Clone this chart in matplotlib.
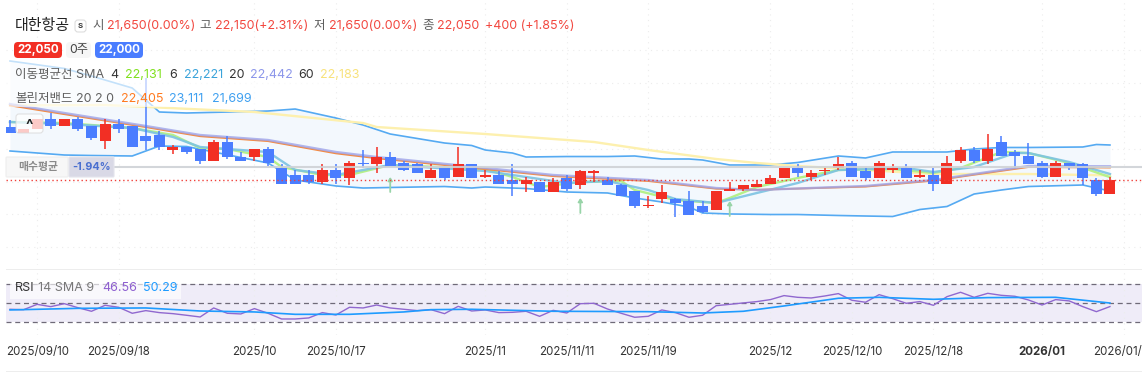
import matplotlib
matplotlib.use("Agg")
import matplotlib.pyplot as plt
import numpy as np
from matplotlib.patches import FancyBboxPatch, Rectangle
from matplotlib.transforms import IdentityTransform

plt.rcParams["font.family"] = ["Inter", "Noto Sans CJK KR", "DejaVu Sans"]

# candles
opens = [23550, 23400, 23500, 23800, 23600, 23800, 23600, 23150, 23650, 23600, 23300, 23350, 22900, 23000,
         22950, 22600, 23150, 22700, 22700, 22950, 22400, 22200, 22200, 22000, 22350, 22100, 22550, 22500,
         22700, 22550, 22500, 22100, 22400, 22150, 22500, 22150, 22200, 22050, 21950, 22000, 21700, 22100,
         21900, 22250, 22050, 21900, 21750, 21300, 21500, 21500, 21450, 21300, 21200, 21750, 21800, 21850,
         21950, 22100, 22400, 22150, 22300, 22400, 22550, 22300, 22100, 22350, 22400, 22150, 22200, 21950,
         22600, 22900, 22600, 23150, 22850, 22750, 22550, 22150, 22550, 22500, 22050, 21650]
closes = [23400, 23500, 23800, 23600, 23800, 23500, 23250, 23650, 23500, 23000, 23150, 23000, 23000, 22850,
          22600, 23150, 22700, 22600, 22950, 22550, 21950, 21950, 22000, 22350, 22100, 22550, 22500, 22700,
          22450, 22350, 22250, 22350, 22100, 22500, 22100, 22200, 21950, 21950, 22050, 21700, 22000, 21800,
          22300, 22300, 21900, 21600, 21300, 21350, 21700, 21400, 21050, 21150, 21750, 21800, 21900, 21950,
          22100, 22400, 22250, 22250, 22350, 22500, 22150, 22100, 22550, 22400, 22100, 22200, 21950, 22550,
          22900, 22600, 22950, 22750, 22750, 22500, 22150, 22550, 22450, 22100, 21650, 22050]
highs = [23750, 23500, 23800, 23950, 23800, 23850, 23600, 23800, 23800, 23600, 24950, 23450, 23050, 23000,
         22950, 23200, 23300, 22850, 22950, 23000, 22500, 22350, 22350, 22500, 22500, 22600, 22900, 23000,
         22850, 22600, 22550, 22500, 22400, 23000, 22500, 22350, 22300, 22500, 22150, 22000, 22100, 22200,
         22350, 22350, 22150, 21950, 21750, 21600, 21900, 21550, 21750, 21450, 21750, 22000, 21900, 22050,
         22200, 22400, 22500, 22350, 22400, 22700, 22600, 22400, 22600, 22500, 22500, 22350, 22400, 22750,
         23000, 23000, 23350, 23300, 22900, 23100, 22600, 22600, 22550, 22550, 22100, 22150]
lows = [23400, 23400, 23500, 23500, 23600, 23450, 23200, 22950, 23400, 23000, 22900, 22900, 22800, 22800,
        22500, 22600, 22650, 22600, 22600, 22450, 21950, 21950, 21950, 21950, 21950, 21900, 22400, 22250,
        22450, 22300, 22250, 22100, 22050, 22150, 22100, 22100, 21950, 21600, 21700, 21700, 21700, 21750,
        21800, 22000, 21900, 21600, 21250, 21250, 21400, 21000, 21050, 21100, 21200, 21750, 21750, 21850,
        21950, 22100, 22150, 22050, 22200, 22350, 22150, 22050, 22100, 22250, 22100, 22100, 21750, 21950,
        22550, 22550, 22500, 22750, 22400, 22500, 22100, 22150, 22350, 21900, 21600, 21650]

# bollinger band, sampled at these candles
band_idx = [0, 4, 6, 9, 11, 13, 19, 21, 24, 26, 28, 32, 34, 35, 37, 38, 41, 44, 46, 48, 50, 51, 53, 56, 58, 61,
            63, 65, 67, 69, 71, 73, 75, 79, 80, 81]
band_up = [25450, 25236, 25021, 24678, 23993, 23964, 24021, 24078, 23821, 23621, 23364, 23107, 23036, 22907,
           22821, 22707, 22721, 22721, 22736, 22650, 22650, 22621, 22479, 22479, 22550, 22736, 22679, 22850,
           22850, 22850, 22936, 22979, 22979, 22993, 23064, 23050]
band_low = [22879, 22764, 22750, 22736, 23021, 23007, 22536, 22050, 21879, 21821, 21836, 21864, 21821, 21850,
            21821, 21807, 21707, 21679, 21536, 21421, 21279, 21107, 21079, 21064, 21064, 21036, 21021, 21007,
            21207, 21293, 21650, 21764, 21864, 21907, 21821, 21736]
mid_idx = [0, 4, 10, 14, 19, 24, 27, 35, 40, 47, 52, 55, 63, 68, 71, 75, 81]
band_mid = [24180, 23930, 23560, 23300, 23160, 22810, 22670, 22360, 22160, 22020, 21800, 21770, 21860, 22030,
            22200, 22420, 22405]
sma20 = [24221, 23964, 23593, 23336, 23193, 22850, 22707, 22393, 22193, 22050, 21821, 21764, 21879, 22050,
         22221, 22450, 22442]

sma4_idx = [0, 4, 9, 12, 14, 16, 19, 20, 23, 25, 28, 35, 37, 39, 42, 45, 46, 49, 52, 53, 55, 58, 61, 65, 68, 70,
            73, 75, 78, 81]
sma4 = [23707, 23678, 23536, 23336, 22964, 22936, 22707, 22421, 22193, 22193, 22479, 22364, 22136, 21850, 21993,
        22021, 21764, 21479, 21393, 21536, 21850, 22107, 22336, 22364, 22250, 22393, 22850, 22821, 22536, 22131]
sma6_idx = [0, 4, 9, 12, 14, 19, 21, 24, 26, 28, 35, 38, 41, 44, 47, 49, 52, 55, 58, 61, 66, 68, 71, 74, 75, 78, 81]
sma6 = [23707, 23650, 23536, 23279, 22993, 22850, 22336, 22193, 22336, 22479, 22307, 22136, 21964, 22021, 21764,
        21507, 21393, 21679, 21964, 22336, 22393, 22279, 22421, 22821, 22821, 22564, 22221]
sma60_idx = [0, 7, 18, 26, 27, 35, 43, 47, 52, 55, 58, 68, 75, 81]
sma60 = [24180, 24193, 23993, 23678, 23564, 23364, 23136, 22907, 22650, 22536, 22450, 22221, 22221, 22183]

buy_idx = [28, 42, 53]
buy_price = [22136, 21536, 21450]
last_price = 22050
avg_price = 22420

rsi = [43.7, 43.3, 48.9, 46.5, 49.6, 45.4, 41.6, 47.9, 45.8, 39.5, 42.3, 40.2, 39.1, 37.4, 35.6, 45.1, 39.5, 38.8,
       44.4, 39.5, 33.5, 33.5, 34.6, 40.2, 37.7, 45.8, 45.1, 48.2, 45.1, 43.7, 42.3, 43.3, 39.1, 46.8, 41.9, 43.0,
       40.2, 40.5, 41.6, 36.3, 42.6, 39.8, 49.6, 50.0, 44.0, 39.5, 35.3, 36.3, 43.0, 40.2, 35.3, 37.4, 47.5, 48.9,
       50.4, 51.8, 53.9, 58.1, 56.3, 55.6, 57.7, 60.2, 53.2, 51.1, 59.1, 54.9, 50.0, 51.8, 47.9, 57.0, 61.6, 56.3,
       60.5, 58.4, 57.4, 53.5, 48.2, 53.9, 52.5, 46.5, 41.2, 46.56]
rsi_sma_idx = [0, 5, 10, 14, 18, 21, 25, 29, 31, 34, 40, 47, 51, 54, 57, 61, 64, 68, 72, 77, 81]
rsi_sma = [43.0, 44.7, 45.1, 41.9, 40.9, 38.4, 38.4, 40.9, 43.3, 43.7, 41.6, 41.2, 39.8, 41.6, 47.2, 55.3, 56.3,
           54.2, 56.0, 56.3, 50.29]

tick_idx = [2, 8, 18, 24, 35, 41, 47, 56, 62, 68, 76, 82]
tick_labels = ["2025/09/10", "2025/09/18", "2025/10", "2025/10/17", "2025/11", "2025/11/11", "2025/11/19",
               "2025/12", "2025/12/10", "2025/12/18", "2026/01", "2026/01/12"]
price_grid = [25750, 24821, 23879, 22936, 22007, 21079, 20136]

W, H = 1142, 378
RED = "#f22f24"
BLUE = "#4a7dff"
TXT_RED = "#f2473f"
DARK = "#333333"
GRAY = "#5f5f5f"
GRID = "#ececec"

fig = plt.figure(figsize=(W / 100, H / 100), dpi=100, facecolor="white")


def box(x0, y0, x1, y1):
    return [x0 / W, 1 - y1 / H, (x1 - x0) / W, (y1 - y0) / H]


def label(x, y, s, color=DARK, size=9.0, **kw):
    kw.setdefault("va", "center")
    kw.setdefault("zorder", 21)
    fig.text(x / W, 1 - y / H, s, color=color, fontsize=size, **kw)


def badge(x0, y0, x1, y1, face, edge="none", alpha=1.0, zorder=20, rad=3):
    fig.add_artist(FancyBboxPatch((x0, H - y1), x1 - x0, y1 - y0, boxstyle=f"round,pad=0,rounding_size={rad}",
                                  transform=IdentityTransform(), facecolor=face, edgecolor=edge,
                                  linewidth=0.8, alpha=alpha, zorder=zorder))


# price panel, px y = 180 - (price - 22050) * 0.035
top_px, bot_px = 0, 265
ax = fig.add_axes(box(6, top_px, W, bot_px))
ax.set_xlim(-0.295, 83.36)
ax.set_ylim(22050 + (180 - bot_px) / 0.035, 22050 + (180 - top_px) / 0.035)
ax.axis("off")
x = np.arange(len(opens))

for g in price_grid:
    ax.axhline(g, color=GRID, lw=0.8, ls=(0, (1, 4)), zorder=0)
for t in tick_idx:
    ax.axvline(t, color=GRID, lw=0.8, ls=(0, (1, 4)), zorder=0)

ax.fill_between(band_idx, band_low, band_up, color="#f3f8fd", lw=0, zorder=1)
ax.plot(band_idx, band_up, color="#55aaf2", lw=1.2, zorder=2)
ax.plot(band_idx, band_low, color="#55aaf2", lw=1.2, zorder=2)
ax.plot(sma60_idx, sma60, color="#fdf0ae", lw=1.7, zorder=3)
ax.plot(sma4_idx, sma4, color="#b5f08a", lw=1.7, zorder=3)
ax.plot(sma6_idx, sma6, color="#7cc3e2", lw=1.7, alpha=0.9, zorder=3)
ax.plot(mid_idx, band_mid, color="#f58b42", lw=1.3, zorder=3)
ax.plot(mid_idx, sma20, color="#9ea4ea", lw=1.7, alpha=0.8, zorder=3)

colors = [RED if c >= o else BLUE for o, c in zip(opens, closes)]
ax.vlines(x, lows, highs, colors=colors, lw=1.1, zorder=4)
ax.bar(x, np.abs(np.array(closes) - np.array(opens)), bottom=np.minimum(opens, closes), width=0.81,
       color=colors, lw=0, zorder=5)

for i, p in zip(buy_idx, buy_price):
    ax.annotate("", xy=(i, p), xytext=(i, p - 429),
                arrowprops=dict(arrowstyle="-|>,head_width=0.13,head_length=0.2", color="#98d4a8", lw=1.3,
                                shrinkA=0, shrinkB=0), zorder=6)

ax.plot([7, 83.36], [avg_price, avg_price], color="#cfd2d6", lw=1.5, alpha=0.9, zorder=6)
ax.axhline(last_price, color="#f0403a", lw=1.0, ls=(0, (1, 2)), zorder=7)

# RSI panel, px y = 303.3 - (rsi - 50) * 0.95
ax2 = fig.add_axes(box(6, 270, W, 335))
ax2.set_xlim(-0.295, 83.36)
ax2.set_ylim(50 - (335 - 303.3) / 0.95, 50 + (303.3 - 270) / 0.95)
for s in ax2.spines.values():
    s.set_visible(False)
ax2.set_yticks([])
ax2.axhspan(30, 70, color="#efecf8", lw=0, zorder=0)
for t in tick_idx:
    ax2.axvline(t, color=GRID, lw=0.8, ls=(0, (1, 4)), zorder=1)
for lvl in (30, 50, 70):
    ax2.axhline(lvl, color="#6f6a78", lw=0.9, ls=(0, (4, 3)), zorder=2)
ax2.plot(x, rsi, color="#9068cf", lw=1.0, zorder=3)
ax2.plot(rsi_sma_idx, rsi_sma, color="#1e9bff", lw=1.2, zorder=4)
ax2.set_xticks(tick_idx)
ax2.set_xticklabels(tick_labels, fontsize=8.3, color=DARK)
ax2.get_xticklabels()[tick_labels.index("2026/01")].set_fontweight("bold")
ax2.tick_params(axis="x", length=0, pad=8)

# separators
for yy in (270, 372):
    fig.add_artist(Rectangle((6 / W, 1 - yy / H), 1 - 6 / W, 1 / H, transform=fig.transFigure,
                             facecolor="#ededed", lw=0))

# header
label(15, 26, "대한항공", "#222222", 10.8)
badge(75, 20, 86, 32, "white", "#dddddd")
label(80.5, 26, "S", "#333333", 5.5, ha="center", fontweight="bold")
label(92, 26, "시", GRAY)
label(107, 26, "21,650(0.00%)", TXT_RED)
label(199, 26, "고", GRAY)
label(215, 26, "22,150(+2.31%)", TXT_RED)
label(313, 26, "저", GRAY)
label(329, 26, "21,650(0.00%)", TXT_RED)
label(422, 26, "종", GRAY)
label(437, 26, "22,050", TXT_RED)
label(485, 26, "+400 (+1.85%)", TXT_RED)

badge(14, 42, 62, 58, RED, rad=4)
label(38, 50, "22,050", "white", 8.4, ha="center", fontweight="bold")
badge(66, 42, 91, 58, "#f6f6f6", rad=4)
label(78.5, 50, "0주", "#444444", 8.8, ha="center")
badge(95, 42, 143, 58, BLUE, rad=4)
label(119, 50, "22,000", "white", 8.4, ha="center", fontweight="bold")

# legend rows wash out what runs behind them
fig.add_artist(Rectangle((6 / W, 1 - 87 / H), 359 / W, 28 / H, transform=fig.transFigure,
                         facecolor="white", alpha=0.65, lw=0, zorder=19))
fig.add_artist(Rectangle((6 / W, 1 - 107 / H), 252 / W, 20 / H, transform=fig.transFigure,
                         facecolor="white", alpha=0.65, lw=0, zorder=19))

label(15, 75, "이동평균선 SMA", GRAY)
label(110, 75, "4", DARK)
label(125, 75, "22,131", "#80e01e")
label(169, 75, "6", DARK)
label(184, 75, "22,221", "#3aa3da")
label(229, 75, "20", DARK)
label(250, 75, "22,442", "#8c96ea")
label(298, 75, "60", DARK)
label(320, 75, "22,183", "#f8e27c")

label(15, 99, "볼린저밴드", GRAY)
label(76, 99, "20 2 0", GRAY)
label(121, 99, "22,405", "#ff7a1f")
label(169, 99, "23,111", "#3fa0f0")
label(212, 99, "21,699", "#3fa0f0")

# collapse button
badge(16, 114, 43, 133, "white", "#d8d8d8", alpha=0.75)
label(29, 126, "^", "#222222", 11, ha="center", fontweight="bold")

# average price tag
badge(6, 157, 68, 177, "#f7f7f7", "#eeeeee", rad=1)
label(38, 167, "매수평균", "#8a8a8a", 7.8, ha="center", fontweight="bold")
badge(69, 157, 114, 177, "#d9d9e6", "#e4e4ec", rad=1)
label(92, 167, "-1.94%", "#4a6fd0", 7.8, ha="center", fontweight="bold")

# RSI legend
fig.add_artist(Rectangle((10 / W, 1 - 299 / H), 171 / W, 19 / H, transform=fig.transFigure,
                         facecolor="white", alpha=0.65, lw=0, zorder=19))
label(15, 288, "RSI", DARK)
label(38, 288, "14 SMA 9", "#777777")
label(102, 288, "46.56", "#8e5fd0")
label(143, 288, "50.29", "#1e9bff")

fig.savefig("out.png", dpi=100)
